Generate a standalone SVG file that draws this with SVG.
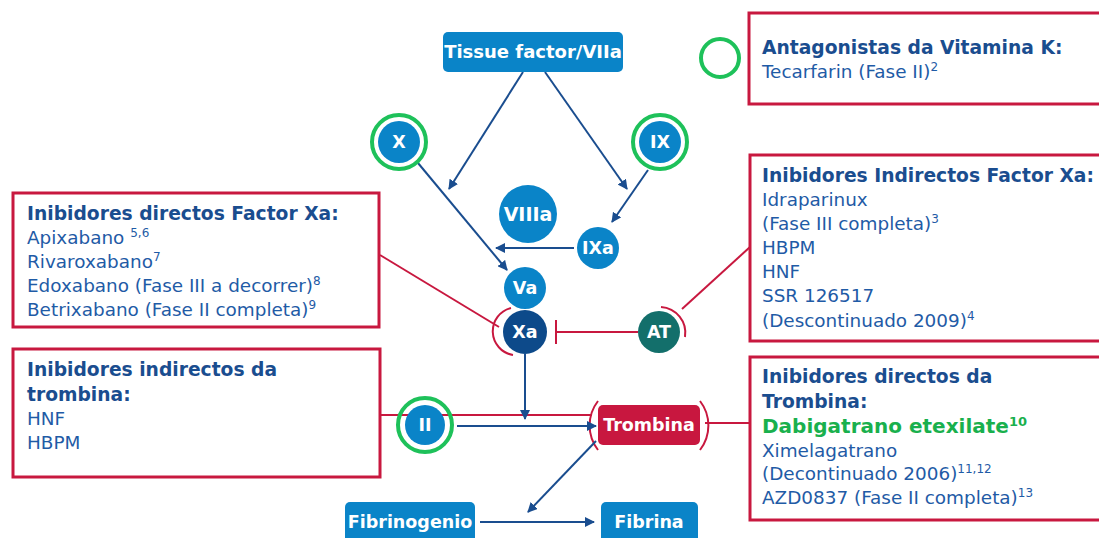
<svg xmlns="http://www.w3.org/2000/svg" width="1099" height="538" viewBox="0 0 1099 538">
  <defs>
    <marker id="arr" viewBox="0 0 10 10" refX="9" refY="5" markerWidth="5" markerHeight="5" orient="auto" markerUnits="strokeWidth">
      <path d="M0,0 L10,5 L0,10 z" fill="#1a4d8f"/>
    </marker>
  </defs>
  <style>
    text { font-family: "DejaVu Sans", Verdana, sans-serif; }
    .box { fill: #ffffff; stroke: #c8183f; stroke-width: 3; }
    .ttl { font-weight: bold; font-size: 18.7px; fill: #1a4d8f; }
    .txt { font-size: 18.4px; fill: #1f5ba6; }
    .sup { font-size: 12px; }
    .node { fill: #0a84c8; }
    .lbl { font-weight: bold; font-size: 17.5px; fill: #ffffff; text-anchor: middle; }
    .ring { fill: none; stroke: #1ec15a; stroke-width: 4; }
    .flow { fill: none; stroke: #1a4d8f; stroke-width: 2; }
    .inh { fill: none; stroke: #c8183f; stroke-width: 2; }
  </style>
  <rect width="1099" height="538" fill="#ffffff"/>

  <!-- inhibitor connectors (drawn beneath the nodes) -->
  <g id="connectors">
    <path class="inh" d="M380,255 L499,327"/>
    <path class="inh" d="M750,247 L682,309"/>
    <path class="inh" d="M638,332 L556,332"/>
    <path class="inh" d="M556,320 L556,344"/>
    <path class="inh" d="M380,415 L592,415"/>
    <path class="inh" d="M705,423 L750,423"/>
    <!-- brackets -->
    <path class="inh" d="M511,308 A24,24 0 0 0 513,355"/>
    <path class="inh" d="M661,307 A26,26 0 0 1 685,337"/>
    <path class="inh" d="M598,401 A40,40 0 0 0 598,450"/>
    <path class="inh" d="M700,401 A40,40 0 0 1 700,450"/>
    <!-- activation arrows -->
    <path class="flow" d="M523,72 L449,189" marker-end="url(#arr)"/>
    <path class="flow" d="M545,72 L627,189" marker-end="url(#arr)"/>
    <path class="flow" d="M418,163 L507,270" marker-end="url(#arr)"/>
    <path class="flow" d="M648,170 L612,222" marker-end="url(#arr)"/>
    <path class="flow" d="M574,248 L496,248" marker-end="url(#arr)"/>
    <path class="flow" d="M525,354 L525,419" marker-end="url(#arr)"/>
    <path class="flow" d="M457,426 L596,426" marker-end="url(#arr)"/>
    <path class="flow" d="M596,441 L528,512" marker-end="url(#arr)"/>
    <path class="flow" d="M480,522 L594,522" marker-end="url(#arr)"/>
  </g>

  <g id="tissue-factor">
    <rect class="node" x="443" y="32" width="180" height="40" rx="5"/>
    <text class="lbl" x="533" y="58" style="font-size:18px">Tissue factor/VIIa</text>
  </g>

  <g id="factor-x">
    <circle class="ring" cx="399" cy="142" r="27"/>
    <circle class="node" cx="399" cy="142" r="21"/>
    <text class="lbl" x="399" y="148">X</text>
  </g>

  <g id="factor-ix">
    <circle class="ring" cx="660" cy="142" r="27"/>
    <circle class="node" cx="660" cy="142" r="21"/>
    <text class="lbl" x="660" y="148">IX</text>
  </g>

  <g id="factor-viiia">
    <circle class="node" cx="528" cy="214" r="29"/>
    <text class="lbl" x="528" y="221" style="font-size:19px">VIIIa</text>
  </g>

  <g id="factor-ixa">
    <circle class="node" cx="598" cy="248" r="21"/>
    <text class="lbl" x="598" y="254">IXa</text>
  </g>

  <g id="factor-va">
    <circle class="node" cx="525" cy="288" r="21"/>
    <text class="lbl" x="525" y="294">Va</text>
  </g>

  <g id="factor-xa">
    <circle fill="#0d4a8a" cx="525" cy="332" r="22"/>
    <text class="lbl" x="525" y="338">Xa</text>
  </g>

  <g id="antithrombin">
    <circle fill="#136f6b" cx="659" cy="332" r="21"/>
    <text class="lbl" x="659" y="338">AT</text>
  </g>

  <g id="factor-ii">
    <circle class="ring" cx="425" cy="425" r="27"/>
    <circle class="node" cx="425" cy="425" r="20"/>
    <text class="lbl" x="425" y="431">II</text>
  </g>

  <g id="trombina">
    <rect fill="#c8173f" x="598" y="405" width="102" height="40" rx="5"/>
    <text class="lbl" x="649" y="431">Trombina</text>
  </g>

  <g id="fibrinogenio">
    <rect class="node" x="345" y="502" width="130" height="44" rx="5"/>
    <text class="lbl" x="410" y="528">Fibrinogenio</text>
  </g>

  <g id="fibrina">
    <rect class="node" x="601" y="502" width="97" height="44" rx="5"/>
    <text class="lbl" x="649" y="528">Fibrina</text>
  </g>

  <g id="vitk-marker">
    <circle class="ring" cx="720" cy="58" r="19"/>
  </g>

  <g id="box-direct-xa">
    <rect class="box" x="13" y="193" width="366" height="134"/>
    <text class="ttl" x="27" y="220">Inibidores directos Factor Xa:</text>
    <text class="txt" x="27" y="244">Apixabano <tspan class="sup" dy="-7">5,6</tspan></text>
    <text class="txt" x="27" y="268">Rivaroxabano<tspan class="sup" dy="-7">7</tspan></text>
    <text class="txt" x="27" y="292">Edoxabano (Fase III a decorrer)<tspan class="sup" dy="-7">8</tspan></text>
    <text class="txt" x="27" y="316">Betrixabano (Fase II completa)<tspan class="sup" dy="-7">9</tspan></text>
  </g>

  <g id="box-indirect-thrombin">
    <rect class="box" x="13" y="349" width="367" height="128"/>
    <text class="ttl" x="27" y="376">Inibidores indirectos da</text>
    <text class="ttl" x="27" y="401">trombina:</text>
    <text class="txt" x="27" y="425">HNF</text>
    <text class="txt" x="27" y="449">HBPM</text>
  </g>

  <g id="box-vitk">
    <rect class="box" x="749" y="13" width="380" height="91"/>
    <text class="ttl" x="762" y="54">Antagonistas da Vitamina K:</text>
    <text class="txt" x="762" y="78">Tecarfarin (Fase II)<tspan class="sup" dy="-7">2</tspan></text>
  </g>

  <g id="box-indirect-xa">
    <rect class="box" x="750" y="155" width="380" height="186"/>
    <text class="ttl" x="762" y="182">Inibidores Indirectos Factor Xa:</text>
    <text class="txt" x="762" y="206">Idraparinux</text>
    <text class="txt" x="762" y="230">(Fase III completa)<tspan class="sup" dy="-7">3</tspan></text>
    <text class="txt" x="762" y="254">HBPM</text>
    <text class="txt" x="762" y="278">HNF</text>
    <text class="txt" x="762" y="302">SSR 126517</text>
    <text class="txt" x="762" y="327">(Descontinuado 2009)<tspan class="sup" dy="-7">4</tspan></text>
  </g>

  <g id="box-direct-thrombin">
    <rect class="box" x="750" y="357" width="380" height="163"/>
    <text class="ttl" x="762" y="383">Inibidores directos da</text>
    <text class="ttl" x="762" y="408">Trombina:</text>
    <text class="ttl" x="762" y="433" style="fill:#19b04d;font-size:20px">Dabigatrano etexilate<tspan class="sup" dy="-7" style="font-size:13px">10</tspan></text>
    <text class="txt" x="762" y="457">Ximelagatrano</text>
    <text class="txt" x="762" y="480">(Decontinuado 2006)<tspan class="sup" dy="-7">11,12</tspan></text>
    <text class="txt" x="762" y="504">AZD0837 (Fase II completa)<tspan class="sup" dy="-7">13</tspan></text>
  </g>
</svg>
